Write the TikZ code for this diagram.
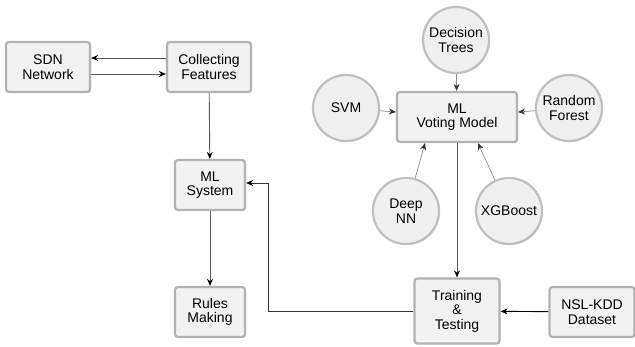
\documentclass[tikz,border=0pt]{standalone}
\usepackage{fontspec}
\setmainfont{Liberation Sans}
\usetikzlibrary{arrows.meta,positioning,shadows}

\begin{document}
\begin{tikzpicture}[x=1pt, y=-1pt,
    box/.style={draw=gray!60, line width=2.2pt, rounded corners=3pt, fill=gray!10,
      align=center, inner sep=2pt, font=\fontsize{14}{14.5}\selectfont,
      drop shadow={opacity=0.3, shadow xshift=1pt, shadow yshift=-1pt}},
    ball/.style={circle, draw=gray!50, line width=2.2pt, fill=gray!12, align=center,
      minimum size=66pt, inner sep=0pt, font=\fontsize{14}{14.5}\selectfont,
      drop shadow={opacity=0.3, shadow xshift=1pt, shadow yshift=-1pt}},
    link/.style={draw=black!65, line width=0.9pt, -{Stealth[length=7pt,width=6pt,black]}},
    thin link/.style={draw=gray!90, line width=0.7pt, -{Stealth[length=7pt,width=6pt,black!80]}}]
    \useasboundingbox (0,0) rectangle (635,347);
    % left column
    \node[box, minimum width=84pt, minimum height=50pt] (sdn) at (48,67) {SDN\\Network};
    \node[box, minimum width=84pt, minimum height=50pt] (collect) at (209,67) {Collecting\\Features};
    \node[box, minimum width=70pt, minimum height=50pt] (mlsys) at (210,185) {ML\\System};
    \node[box, minimum width=70pt, minimum height=50pt] (rules) at (210,312) {Rules\\Making};
    % voting part
    \node[box, minimum width=120pt, minimum height=50pt] (voting) at (457,117) {ML\\Voting Model};
    \node[ball] (dtree) at (456,40) {Decision\\Trees};
    \node[ball] (svm) at (346,108) {SVM};
    \node[ball] (rforest) at (569,108) {Random\\Forest};
    \node[ball] (dnn) at (406,211) {Deep\\NN};
    \node[ball] (xgb) at (509,211) {XGBoost};
    \node[box, minimum width=85pt, minimum height=65pt] (train) at (457,311) {Training\\\&\\Testing};
    \node[box, minimum width=85pt, minimum height=50pt] (nslkdd) at (592,312) {NSL-KDD\\Dataset};
    % connectors
    \draw[link] (collect.west |- 0,58) -- (sdn.east |- 0,58);
    \draw[link] (sdn.east |- 0,74) -- (collect.west |- 0,74);
    \draw[link] (collect) -- (mlsys);
    \draw[link] (mlsys) -- (rules);
    \draw[thin link] (dtree) -- (voting);
    \draw[thin link] (svm) -- (voting);
    \draw[thin link] (rforest) -- (voting);
    \draw[thin link] (dnn) -- (voting.south west -| 425,0);
    \draw[thin link] (xgb) -- (voting.south east -| 478,0);
    \draw[link] (voting) -- (train);
    \draw[link, draw=black] (nslkdd) -- (train);
    \draw[link, draw=black!80] (train.west) -- (268,311) |- (mlsys.east |- 0,183);
\end{tikzpicture}
\end{document}
